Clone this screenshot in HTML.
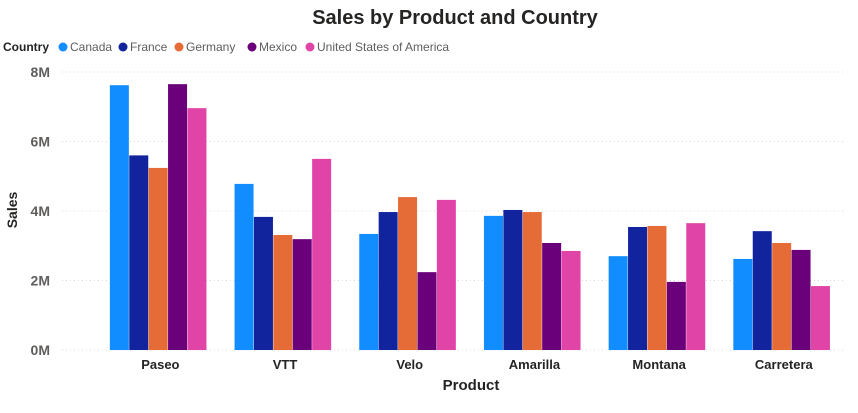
<!DOCTYPE html>
<html><head><meta charset="utf-8"><style>
body{margin:0;background:#fff;width:858px;height:408px;overflow:hidden;font-family:"Liberation Sans",sans-serif}
</style></head><body>
<svg id="chart" width="858" height="408" xmlns="http://www.w3.org/2000/svg">
<text x="455" y="24" text-anchor="middle" font-size="20" font-weight="bold" fill="#252423">Sales by Product and Country</text>
<g id="legend"></g>
<g id="grid"></g>
<g id="yaxis"></g>
<g id="bars"></g>
<g id="xaxis"></g>
<text transform="translate(17,210) rotate(-90)" text-anchor="middle" font-size="14" font-weight="bold" fill="#252423">Sales</text>
<text x="471" y="390" text-anchor="middle" font-size="15" font-weight="bold" fill="#252423">Product</text>
</svg>
<script>
const categories=["Paseo","VTT","Velo","Amarilla","Montana","Carretera"];
const countries=["Canada","France","Germany","Mexico","United States of America"];
const canada=[7.62,4.78,3.34,3.86,2.70,2.62];
const france=[5.60,3.83,3.97,4.03,3.54,3.42];
const germany=[5.24,3.31,4.40,3.97,3.57,3.08];
const mexico=[7.65,3.19,2.24,3.08,1.96,2.88];
const usa=[6.96,5.50,4.32,2.85,3.65,1.84];
const yTicks=[0,2,4,6,8];
const yTickLabels=["0M","2M","4M","6M","8M"];
const series=[canada,france,germany,mexico,usa];
const colors=["#118DFF","#12239E","#E66C37","#6B007B","#E044A7"];
const NS="http://www.w3.org/2000/svg";
function mk(t,a,p){const e=document.createElementNS(NS,t);for(const k in a)e.setAttribute(k,a[k]);p.appendChild(e);return e;}
const y0=350,yTop=72,yMax=8;
function y(v){return y0-(v/yMax)*(y0-yTop);}
const x0=96,band=124.7;
function xc(i){return x0+band*(i+0.5);}
const bw=19.4;
const grid=document.getElementById('grid'),ya=document.getElementById('yaxis');
yTicks.forEach((t,i)=>{
 const l=mk('line',{x1:62,x2:845,y1:y(t),y2:y(t),stroke:'#d8d8d8','stroke-dasharray':'1,3'},grid);
 
 
 const tx=mk('text',{x:50,y:y(t)+5,'text-anchor':'end','font-size':14,'font-weight':'bold',fill:'#605e5c'},ya);
 tx.textContent=yTickLabels[i];
 
 
});
const bars=document.getElementById('bars'),xa=document.getElementById('xaxis');
categories.forEach((c,i)=>{
 series.forEach((s,j)=>{
  const r=mk('rect',{x:xc(i)-2.5*bw+j*bw,y:y(s[i]),width:bw-0.4,height:y0-y(s[i]),fill:colors[j]},bars);
  
  
 });
 const t=mk('text',{x:xc(i)+2,y:369,'text-anchor':'middle','font-size':13,'font-weight':'bold',fill:'#252423'},xa);
 t.textContent=c;
 
 
});
const lg=document.getElementById('legend');
const lt=mk('text',{x:3,y:51,'font-size':12,'font-weight':'bold',fill:'#252423'},lg);
lt.textContent="Country";


const lx=[63,123,179,252,310];
countries.forEach((c,j)=>{
 const ci=mk('circle',{cx:lx[j],cy:47,r:4.5,fill:colors[j]},lg);
 
 
 const t=mk('text',{x:lx[j]+7,y:51,'font-size':12,fill:'#605e5c'},lg);
 t.textContent=c;
 
 
});
</script>
</body></html>
